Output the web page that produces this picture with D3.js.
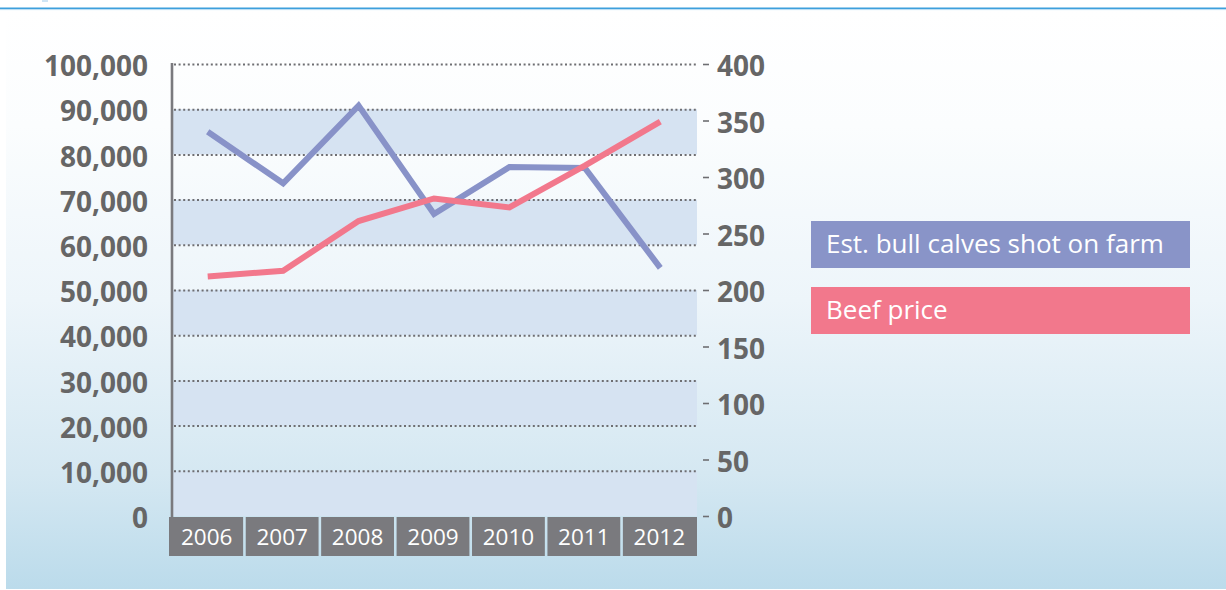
<!DOCTYPE html>
<html>
<head>
<meta charset="utf-8">
<script src="https://cdn.jsdelivr.net/npm/d3@7"></script>
<style>
  html, body { margin: 0; padding: 0; background: #fff; }
  svg { display: block; font-family: "Open Sans", "Noto Sans", sans-serif; }
  .tick-label { font-weight: bold; fill: #666; font-size: 28px; }
  .year-label { fill: #fff; font-size: 22.5px; }
  .legend-label { fill: #fff; font-size: 26px; }
</style>
</head>
<body>
<svg id="chart" width="1226" height="590"></svg>
<script>
var years = ["2006", "2007", "2008", "2009", "2010", "2011", "2012"];
var bullCalves = [85000, 73600, 90800, 66800, 77200, 77000, 54900];
var beefPrice = [212, 217, 261, 281, 273, 310, 349];
var leftTicks = [0, 10000, 20000, 30000, 40000, 50000, 60000, 70000, 80000, 90000, 100000];
var rightTicks = [0, 50, 100, 150, 200, 250, 300, 350, 400];
var seriesNames = ["Est. bull calves shot on farm", "Beef price"];

var svg = d3.select("#chart");

// plot box
var plotLeft = 172, plotRight = 697, plotTop = 64, plotBottom = 516;

var x = d3.scaleBand().domain(years).range([169, plotRight]);
var yLeft = d3.scaleLinear().domain([0, 100000]).range([plotBottom, plotTop]);
var yRight = d3.scaleLinear().domain([0, 400]).range([plotBottom, plotTop]);

// background
var defs = svg.append("defs");
var grad = defs.append("linearGradient")
  .attr("id", "bg")
  .attr("x1", 0).attr("y1", 0).attr("x2", 0).attr("y2", 1);
grad.append("stop").attr("offset", "0").attr("stop-color", "#ffffff");
grad.append("stop").attr("offset", "0.2").attr("stop-color", "#fbfdfe");
grad.append("stop").attr("offset", "0.5").attr("stop-color", "#edf5fa");
grad.append("stop").attr("offset", "0.8").attr("stop-color", "#d5e8f2");
grad.append("stop").attr("offset", "1").attr("stop-color", "#bbdbeb");

svg.append("rect")
  .attr("x", 6).attr("y", 10)
  .attr("width", 1220).attr("height", 579)
  .attr("fill", "url(#bg)");

// top rule
svg.append("rect").attr("x", 0).attr("y", 7.5).attr("width", 1226).attr("height", 1.6).attr("fill", "#3d9fdc");
svg.append("rect").attr("x", 0).attr("y", 9.1).attr("width", 1226).attr("height", 1).attr("fill", "#b8dcf2");
svg.append("rect").attr("x", 42).attr("y", 0).attr("width", 6).attr("height", 2).attr("fill", "#cfe5f5");

// alternating bands
var bandPairs = d3.pairs(leftTicks).filter(function(p, i) { return i % 2 === 0; });
svg.append("g")
  .selectAll("rect")
  .data(bandPairs)
  .join("rect")
  .attr("x", plotLeft)
  .attr("y", function(d) { return yLeft(d[1]); })
  .attr("width", plotRight - plotLeft)
  .attr("height", function(d) { return yLeft(d[0]) - yLeft(d[1]); })
  .attr("fill", "#d6e3f2");

// dotted grid
svg.append("g")
  .selectAll("line")
  .data(leftTicks.slice(1))
  .join("line")
  .attr("x1", plotLeft + 2)
  .attr("x2", plotRight)
  .attr("y1", function(d) { return yLeft(d) + 0.5; })
  .attr("y2", function(d) { return yLeft(d) + 0.5; })
  .attr("stroke", "#6e6e72")
  .attr("stroke-width", 2)
  .attr("stroke-dasharray", "2,2.6");

// left axis
var leftAxis = svg.append("g")
  .attr("transform", "translate(" + plotLeft + ",0)")
  .call(d3.axisLeft(yLeft).tickValues(leftTicks).tickSize(0).tickPadding(24).tickFormat(d3.format(",")));
leftAxis.select(".domain").remove();
leftAxis.selectAll("text")
  .attr("class", "tick-label")
  .attr("dy", "0.42em");
leftAxis.attr("font-family", null).attr("font-size", null);

svg.append("line")
  .attr("x1", plotLeft).attr("x2", plotLeft)
  .attr("y1", plotTop - 1).attr("y2", plotBottom + 2)
  .attr("stroke", "#7a7a7e")
  .attr("stroke-width", 2.6);

// right axis
var rightAxis = svg.append("g")
  .attr("transform", "translate(703,0)")
  .call(d3.axisRight(yRight).tickValues(rightTicks).tickSize(6).tickPadding(8));
rightAxis.select(".domain").remove();
rightAxis.selectAll("line").attr("stroke", "#6e6e72").attr("stroke-width", 1.6);
rightAxis.selectAll("text")
  .attr("class", "tick-label")
  .attr("dy", "0.42em");
rightAxis.attr("font-family", null).attr("font-size", null);

// year boxes
var yearG = svg.append("g")
  .selectAll("g")
  .data(years)
  .join("g");
yearG.append("rect")
  .attr("x", function(d, i) { return x(d) + (i === 0 ? 0 : 1.3); })
  .attr("y", plotBottom + 1)
  .attr("width", function(d, i) { return x.bandwidth() - (i === 0 ? 1.3 : 2.6) + (i === years.length - 1 ? 1.3 : 0); })
  .attr("height", 39)
  .attr("fill", "#7a7a7e");
yearG.append("text")
  .attr("class", "year-label")
  .attr("x", function(d) { return x(d) + x.bandwidth() / 2; })
  .attr("y", plotBottom + 29)
  .attr("text-anchor", "middle")
  .text(function(d) { return d; });

// lines
var cx = function(d, i) { return x(years[i]) + x.bandwidth() / 2 + 1; };

svg.append("path")
  .datum(bullCalves)
  .attr("d", d3.line().x(cx).y(function(d) { return yLeft(d); }))
  .attr("fill", "none")
  .attr("stroke", "#8892c8")
  .attr("stroke-width", 6)
  .attr("stroke-linejoin", "miter");

svg.append("path")
  .datum(beefPrice)
  .attr("d", d3.line().x(cx).y(function(d) { return yRight(d); }))
  .attr("fill", "none")
  .attr("stroke", "#f2788c")
  .attr("stroke-width", 6)
  .attr("stroke-linejoin", "miter");

// legend
var legendColors = ["#8994c8", "#f2788c"];
var legend = svg.append("g")
  .selectAll("g")
  .data(seriesNames)
  .join("g")
  .attr("transform", function(d, i) { return "translate(811," + (221 + i * 66) + ")"; });
legend.append("rect")
  .attr("width", 379)
  .attr("height", 47)
  .attr("fill", function(d, i) { return legendColors[i]; });
legend.append("text")
  .attr("class", "legend-label")
  .attr("x", 15)
  .attr("y", 32)
  .text(function(d) { return d; });
</script>
</body>
</html>
